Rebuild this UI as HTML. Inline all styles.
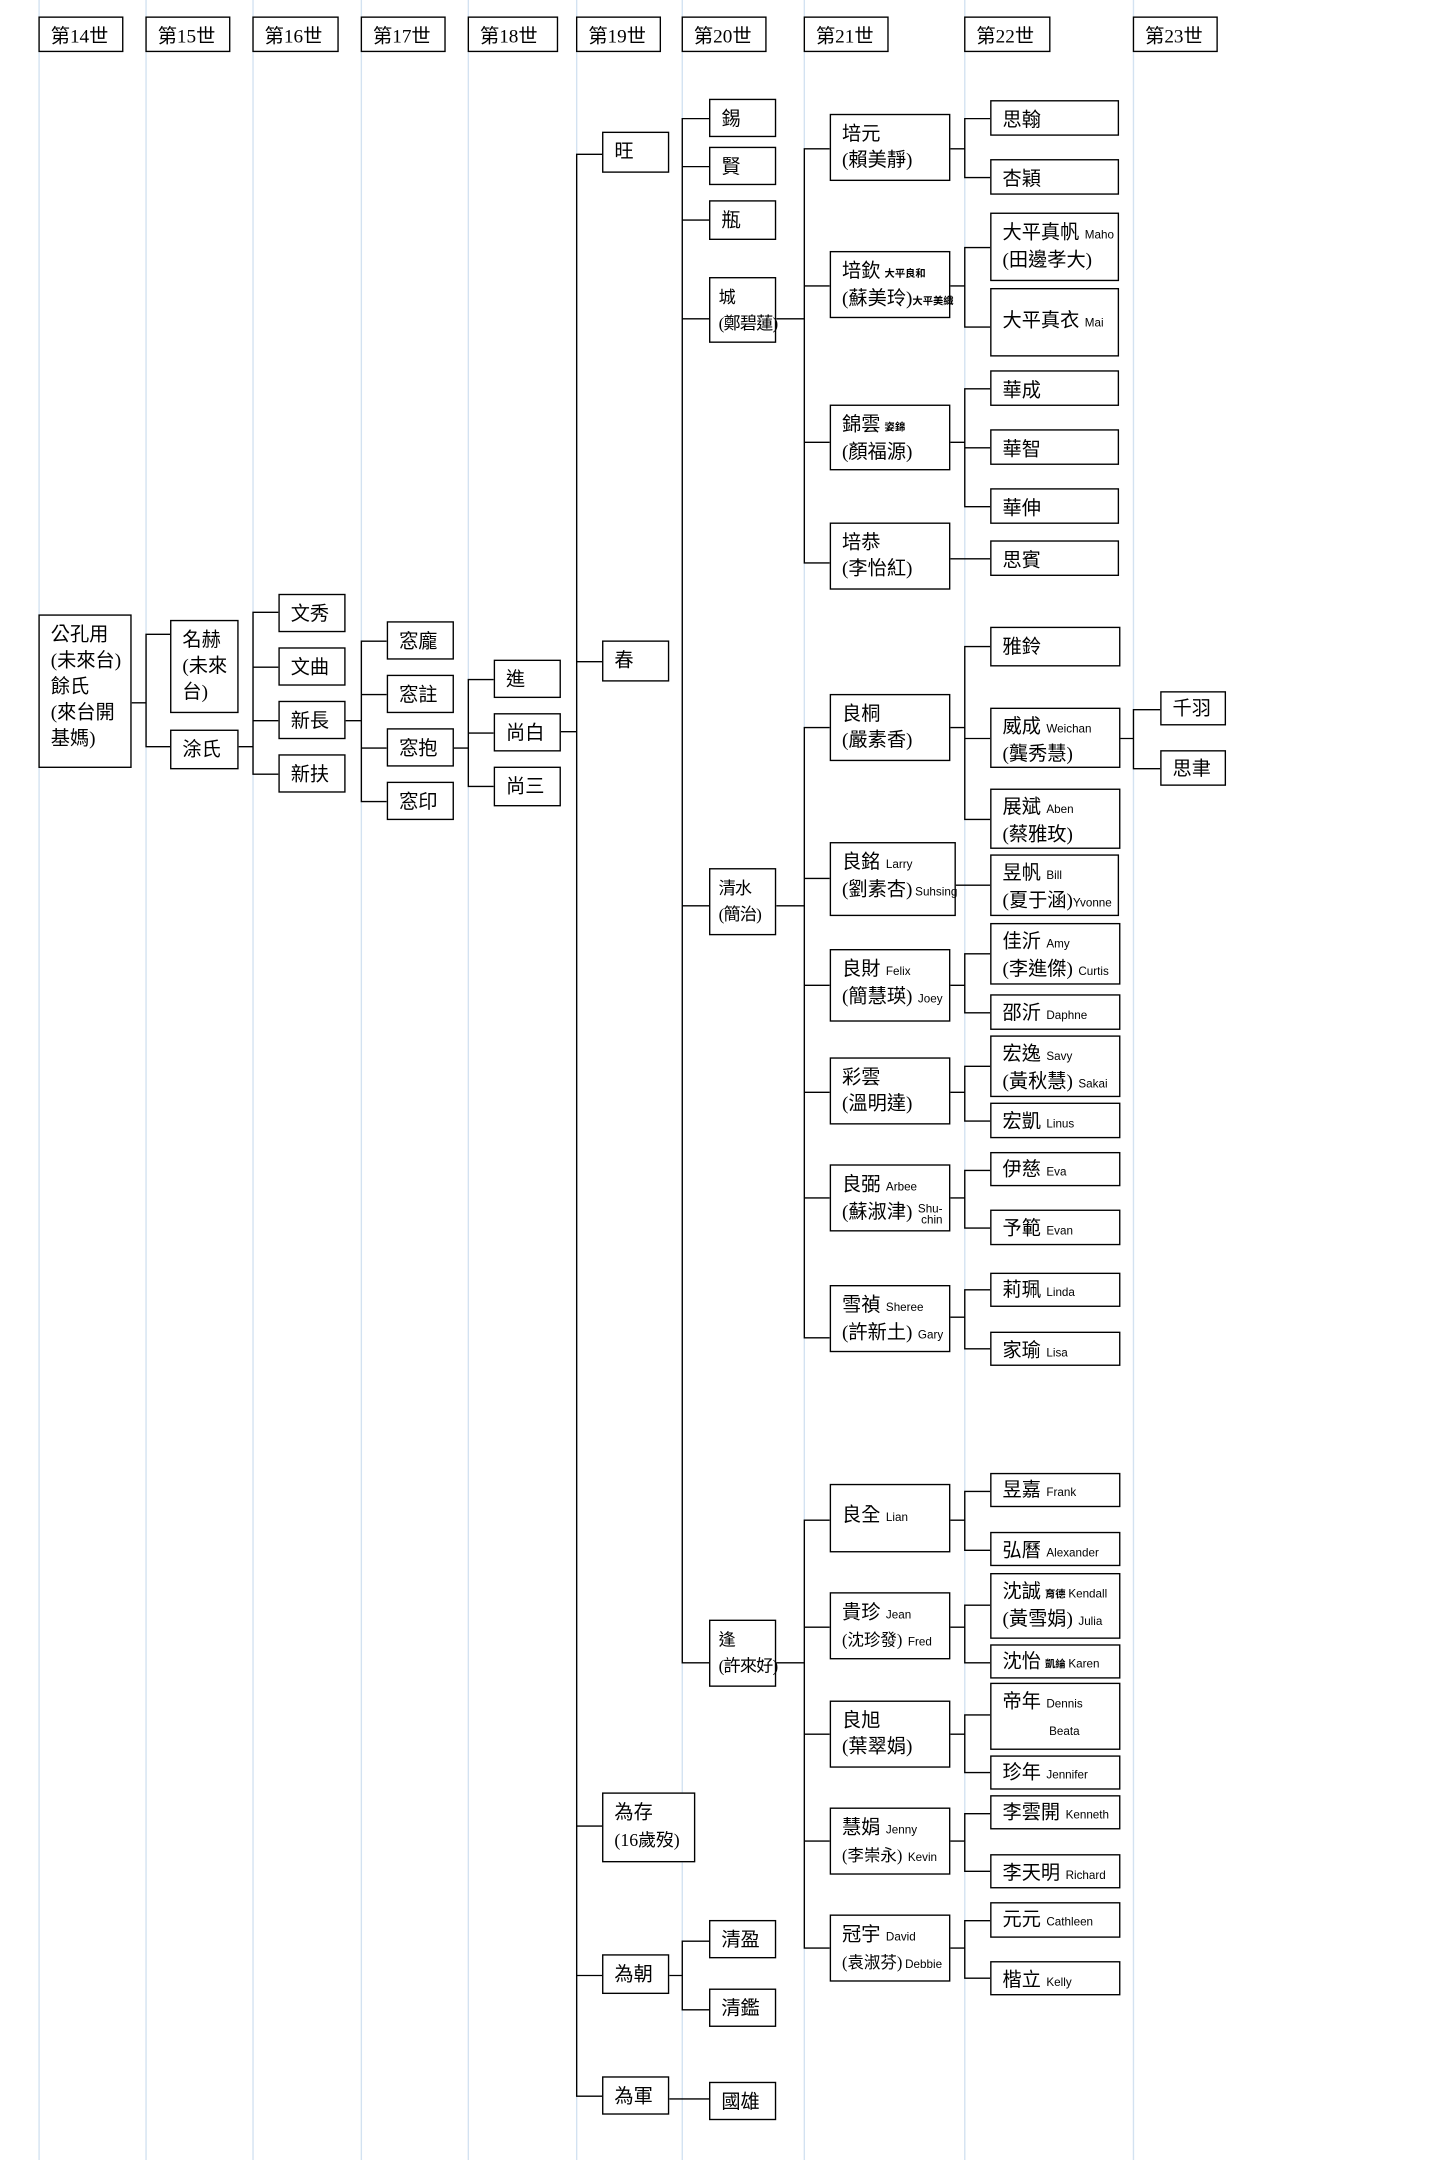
<!DOCTYPE html>
<html><head><meta charset="utf-8"><style>
html,body{margin:0;padding:0;background:#fff;width:1440px;height:2160px;overflow:hidden}
#c{position:absolute;left:0;top:0;width:1050px;height:1575px;transform:scale(1.3714);transform-origin:0 0;font-family:"Liberation Serif","Noto Sans CJK TC","Noto Serif CJK TC",sans-serif;color:#000}
.b{position:absolute;border:1px solid #000;box-sizing:border-box;padding:5px 0 0 8px;font-size:14px;line-height:19px;background:#fff;white-space:nowrap;overflow:visible}
.e{font-family:"Liberation Sans",sans-serif;font-size:8.5px;margin-left:4px}
.k{font-family:"Liberation Sans","Noto Sans CJK TC",sans-serif;font-size:7.5px;font-weight:bold;margin-left:3px}
.n{font-size:12.5px;letter-spacing:-0.6px;padding-left:6px}
svg{position:absolute;left:0;top:0}
</style></head><body><div id="c">
<svg width="1050" height="1575" viewBox="0 0 1050 1575">
<g stroke="#d3e2f1" stroke-width="1">
<line x1="28.5" y1="0" x2="28.5" y2="1575"/><line x1="106.5" y1="0" x2="106.5" y2="1575"/><line x1="184.5" y1="0" x2="184.5" y2="1575"/><line x1="263.5" y1="0" x2="263.5" y2="1575"/><line x1="341.5" y1="0" x2="341.5" y2="1575"/><line x1="420.5" y1="0" x2="420.5" y2="1575"/><line x1="497.5" y1="0" x2="497.5" y2="1575"/><line x1="586.5" y1="0" x2="586.5" y2="1575"/><line x1="703.5" y1="0" x2="703.5" y2="1575"/><line x1="826.5" y1="0" x2="826.5" y2="1575"/>
</g>
<g stroke="#000" stroke-width="1" fill="none">
<path d="M96 512.5H106.5M106.5 462V544M106 462.5H124M106 544.5H124M174 544.5H184.5"/>
<path d="M184.5 446V564M184 446.5H203M184 486.5H203M184 525.5H203M184 564.5H203M252 525.5H263.5"/>
<path d="M263.5 467V584M263 467.5H282M263 506.5H282M263 545.5H282M263 584.5H282M331 545.5H341.5"/>
<path d="M341.5 495V573M341 495.5H360M341 534.5H360M341 573.5H360M409 533.5H420.5"/>
<path d="M420.5 112V1528M420 112.5H439M420 482.5H439M420 1331.5H439M420 1440.5H439M420 1528.5H439"/>
<path d="M497.5 86V1212M497 86.5H517M497 121.5H517M497 160.5H517M497 232.5H517M497 660.5H517M497 1212.5H517"/>
<path d="M497.5 1415V1465M497 1415.5H517M497 1465.5H517M488 1440.5H497.5M488 1530.5H517"/>
<path d="M586.5 108V410M586 108.5H605M586 208.5H605M586 322.5H605M586 410.5H605M566 232.5H586.5"/>
<path d="M586.5 530V975M586 530.5H605M586 640.5H605M586 718.5H605M586 796.5H605M586 873.5H605M586 975.5H605M566 660.5H586.5"/>
<path d="M586.5 1108V1420M586 1108.5H605M586 1186.5H605M586 1264.5H605M586 1342.5H605M586 1420.5H605M566 1212.5H586.5"/>
<path d="M703.5 86V129M703 86.5H722M703 129.5H722M693 108.5H703.5"/>
<path d="M703.5 180V238M703 180.5H722M703 238.5H722M693 208.5H703.5"/>
<path d="M703.5 283V369M703 283.5H722M703 326.5H722M703 369.5H722M693 322.5H703.5"/>
<path d="M693 407.5H722"/>
<path d="M703.5 471V597M703 471.5H722M703 538.5H722M703 597.5H722M693 530.5H703.5"/>
<path d="M693 645.5H722"/>
<path d="M703.5 695V738M703 695.5H722M703 738.5H722M693 718.5H703.5"/>
<path d="M703.5 777V817M703 777.5H722M703 817.5H722M693 796.5H703.5"/>
<path d="M703.5 853V895M703 853.5H722M703 895.5H722M693 873.5H703.5"/>
<path d="M703.5 940V983M703 940.5H722M703 983.5H722M693 960.5H703.5"/>
<path d="M703.5 1087V1130M703 1087.5H722M703 1130.5H722M693 1108.5H703.5"/>
<path d="M703.5 1170V1212M703 1170.5H722M703 1212.5H722M693 1186.5H703.5"/>
<path d="M703.5 1250V1292M703 1250.5H722M703 1292.5H722M693 1264.5H703.5"/>
<path d="M703.5 1322V1364M703 1322.5H722M703 1364.5H722M693 1342.5H703.5"/>
<path d="M703.5 1400V1442M703 1400.5H722M703 1442.5H722M693 1420.5H703.5"/>
<path d="M826.5 517V560M826 517.5H846M826 560.5H846M816 538.5H826.5"/>
</g>
</svg>

<div class="b" style="left:28px;top:12px;width:62px;height:26px">第14世</div>
<div class="b" style="left:106px;top:12px;width:62px;height:26px">第15世</div>
<div class="b" style="left:184px;top:12px;width:63px;height:26px">第16世</div>
<div class="b" style="left:263px;top:12px;width:62px;height:26px">第17世</div>
<div class="b" style="left:341px;top:12px;width:66px;height:26px">第18世</div>
<div class="b" style="left:420px;top:12px;width:62px;height:26px">第19世</div>
<div class="b" style="left:497px;top:12px;width:62px;height:26px">第20世</div>
<div class="b" style="left:586px;top:12px;width:62px;height:26px">第21世</div>
<div class="b" style="left:703px;top:12px;width:63px;height:26px">第22世</div>
<div class="b" style="left:826px;top:12px;width:62px;height:26px">第23世</div>

<div class="b" style="left:28px;top:448px;width:68px;height:112px">公孔用<br>(未來台)<br>餘氏<br>(來台開<br>基媽)</div>
<div class="b" style="left:124px;top:452px;width:50px;height:68px">名赫<br>(未來<br>台)</div>
<div class="b" style="left:124px;top:532px;width:50px;height:29px">涂氏</div>
<div class="b" style="left:203px;top:433px;width:49px;height:28px">文秀</div>
<div class="b" style="left:203px;top:472px;width:49px;height:28px">文曲</div>
<div class="b" style="left:203px;top:511px;width:49px;height:28px">新長</div>
<div class="b" style="left:203px;top:550px;width:49px;height:28px">新扶</div>
<div class="b" style="left:282px;top:453px;width:49px;height:28px">窓龐</div>
<div class="b" style="left:282px;top:492px;width:49px;height:28px">窓註</div>
<div class="b" style="left:282px;top:531px;width:49px;height:28px">窓抱</div>
<div class="b" style="left:282px;top:570px;width:49px;height:28px">窓印</div>
<div class="b" style="left:360px;top:481px;width:49px;height:28px">進</div>
<div class="b" style="left:360px;top:520px;width:49px;height:28px">尚白</div>
<div class="b" style="left:360px;top:559px;width:49px;height:29px">尚三</div>

<div class="b" style="left:439px;top:96px;width:49px;height:30px">旺</div>
<div class="b" style="left:439px;top:467px;width:49px;height:30px">春</div>
<div class="b" style="left:439px;top:1307px;width:68px;height:51px">為存<br><span style="font-size:13px">(16歲歿)</span></div>
<div class="b" style="left:439px;top:1425px;width:49px;height:29px">為朝</div>
<div class="b" style="left:439px;top:1514px;width:49px;height:28px">為軍</div>

<div class="b" style="left:517px;top:72px;width:49px;height:28px">錫</div>
<div class="b" style="left:517px;top:107px;width:49px;height:28px">賢</div>
<div class="b" style="left:517px;top:146px;width:49px;height:29px">瓶</div>
<div class="b n" style="left:517px;top:202px;width:49px;height:48px">城<br>(鄭碧蓮)</div>
<div class="b n" style="left:517px;top:633px;width:49px;height:49px">清水<br>(簡治)</div>
<div class="b n" style="left:517px;top:1181px;width:49px;height:49px">逢<br>(許來好)</div>
<div class="b" style="left:517px;top:1400px;width:49px;height:28px">清盈</div>
<div class="b" style="left:517px;top:1450px;width:49px;height:28px">清鑑</div>
<div class="b" style="left:517px;top:1518px;width:49px;height:28px">國雄</div>

<div class="b" style="left:605px;top:83px;width:88px;height:49px">培元<br>(賴美靜)</div>
<div class="b" style="left:605px;top:183px;width:88px;height:49px">培欽<span class="k">大平良和</span><br>(蘇美玲)<span class="k" style="margin-left:0">大平美織</span></div>
<div class="b" style="left:605px;top:295px;width:88px;height:48px">錦雲<span class="k">姿錦</span><br>(顏福源)</div>
<div class="b" style="left:605px;top:381px;width:88px;height:49px">培恭<br>(李怡紅)</div>
<div class="b" style="left:605px;top:506px;width:88px;height:49px">良桐<br>(嚴素香)</div>
<div class="b" style="left:605px;top:614px;width:92px;height:54px">良銘<span class="e">Larry</span><br>(劉素杏)<span class="e" style="margin-left:2px">Suhsing</span></div>
<div class="b" style="left:605px;top:692px;width:88px;height:53px">良財<span class="e">Felix</span><br>(簡慧瑛)<span class="e">Joey</span></div>
<div class="b" style="left:605px;top:771px;width:88px;height:49px">彩雲<br>(溫明達)</div>
<div class="b" style="left:605px;top:849px;width:88px;height:49px">良弼<span class="e">Arbee</span><br>(蘇淑津)<span class="e" style="display:inline-block;line-height:8px;vertical-align:middle">Shu-<br>&nbsp;chin</span></div>
<div class="b" style="left:605px;top:937px;width:88px;height:49px">雪禎<span class="e">Sheree</span><br>(許新土)<span class="e">Gary</span></div>
<div class="b" style="left:605px;top:1082px;width:88px;height:50px;padding-top:13px">良全<span class="e">Lian</span></div>
<div class="b" style="left:605px;top:1161px;width:88px;height:49px">貴珍<span class="e">Jean</span><br><span style="font-size:12px">(沈珍發)</span><span class="e">Fred</span></div>
<div class="b" style="left:605px;top:1240px;width:88px;height:49px">良旭<br>(葉翠娟)</div>
<div class="b" style="left:605px;top:1318px;width:88px;height:49px">慧娟<span class="e">Jenny</span><br><span style="font-size:12px">(李崇永)</span><span class="e">Kevin</span></div>
<div class="b" style="left:605px;top:1396px;width:88px;height:49px">冠宇<span class="e">David</span><br><span style="font-size:12px">(袁淑芬)</span><span class="e" style="margin-left:2px">Debbie</span></div>

<div class="b" style="left:722px;top:73px;width:94px;height:26px">思翰</div>
<div class="b" style="left:722px;top:116px;width:94px;height:26px">杏穎</div>
<div class="b" style="left:722px;top:155px;width:94px;height:50px">大平真帆<span class="e">Maho</span><br>(田邊孝大)</div>
<div class="b" style="left:722px;top:210px;width:94px;height:50px;padding-top:14px">大平真衣<span class="e">Mai</span></div>
<div class="b" style="left:722px;top:270px;width:94px;height:26px">華成</div>
<div class="b" style="left:722px;top:313px;width:94px;height:26px">華智</div>
<div class="b" style="left:722px;top:356px;width:94px;height:26px">華伸</div>
<div class="b" style="left:722px;top:394px;width:94px;height:26px">思賓</div>
<div class="b" style="left:722px;top:457px;width:95px;height:29px">雅鈴</div>
<div class="b" style="left:722px;top:516px;width:95px;height:44px;padding-top:4px">威成<span class="e">Weichan</span><br>(龔秀慧)</div>
<div class="b" style="left:722px;top:575px;width:95px;height:44px;padding-top:4px">展斌<span class="e">Aben</span><br>(蔡雅玫)</div>
<div class="b" style="left:722px;top:623px;width:94px;height:45px;padding-top:4px">昱帆<span class="e">Bill</span><br>(夏于涵)<span class="e" style="margin-left:0">Yvonne</span></div>
<div class="b" style="left:722px;top:673px;width:95px;height:45px;padding-top:4px">佳沂<span class="e">Amy</span><br>(李進傑)<span class="e">Curtis</span></div>
<div class="b" style="left:722px;top:725px;width:95px;height:26px;padding-top:4px">邵沂<span class="e">Daphne</span></div>
<div class="b" style="left:722px;top:755px;width:95px;height:45px;padding-top:4px">宏逸<span class="e">Savy</span><br>(黃秋慧)<span class="e">Sakai</span></div>
<div class="b" style="left:722px;top:804px;width:95px;height:26px;padding-top:4px">宏凱<span class="e">Linus</span></div>
<div class="b" style="left:722px;top:840px;width:95px;height:25px;padding-top:3px">伊慈<span class="e">Eva</span></div>
<div class="b" style="left:722px;top:882px;width:95px;height:26px;padding-top:4px">予範<span class="e">Evan</span></div>
<div class="b" style="left:722px;top:928px;width:95px;height:25px;padding-top:3px">莉珮<span class="e">Linda</span></div>
<div class="b" style="left:722px;top:971px;width:95px;height:25px;padding-top:4px">家瑜<span class="e">Lisa</span></div>
<div class="b" style="left:722px;top:1074px;width:95px;height:25px;padding-top:3px">昱嘉<span class="e">Frank</span></div>
<div class="b" style="left:722px;top:1117px;width:95px;height:25px;padding-top:4px">弘曆<span class="e">Alexander</span></div>
<div class="b" style="left:722px;top:1147px;width:95px;height:48px;padding-top:4px">沈誠<span class="k">育德</span><span class="e" style="margin-left:2px">Kendall</span><br>(黃雪娟)<span class="e">Julia</span></div>
<div class="b" style="left:722px;top:1199px;width:95px;height:25px;padding-top:3px">沈怡<span class="k">凱綸</span><span class="e" style="margin-left:2px">Karen</span></div>
<div class="b" style="left:722px;top:1227px;width:95px;height:49px;padding-top:4px">帝年<span class="e">Dennis</span><br><span class="e" style="margin-left:34px">Beata</span></div>
<div class="b" style="left:722px;top:1280px;width:95px;height:25px;padding-top:3px">珍年<span class="e">Jennifer</span></div>
<div class="b" style="left:722px;top:1309px;width:95px;height:25px;padding-top:3px">李雲開<span class="e">Kenneth</span></div>
<div class="b" style="left:722px;top:1352px;width:95px;height:25px;padding-top:4px">李天明<span class="e">Richard</span></div>
<div class="b" style="left:722px;top:1387px;width:95px;height:26px;padding-top:3px">元元<span class="e">Cathleen</span></div>
<div class="b" style="left:722px;top:1430px;width:95px;height:25px;padding-top:4px">楷立<span class="e">Kelly</span></div>

<div class="b" style="left:846px;top:504px;width:48px;height:25px;padding-top:3px">千羽</div>
<div class="b" style="left:846px;top:547px;width:48px;height:26px;padding-top:4px">思聿</div>
</div></body></html>
